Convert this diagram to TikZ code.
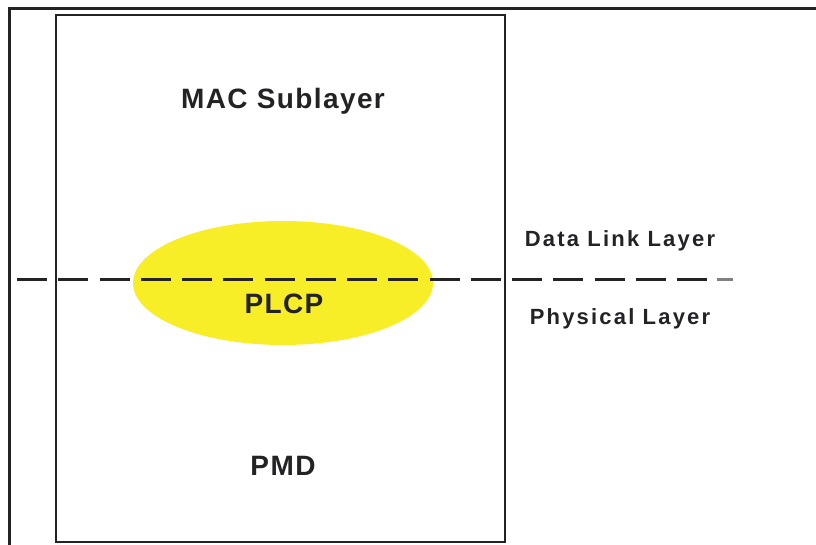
\documentclass[tikz,border=0pt]{standalone}
\usepackage{fontspec}
\setmainfont{Liberation Sans}
\usetikzlibrary{shapes.geometric}

\definecolor{plcpyellow}{RGB}{248,238,40}
\definecolor{ink}{RGB}{35,35,38}

\tikzset{
	boxlabel/.style={anchor=base, text=ink, font=\fontsize{28}{30}\selectfont\bfseries\addfontfeatures{LetterSpace=5}},
	sidelabel/.style={anchor=base, text=ink, font=\fontsize{22}{24}\selectfont\bfseries\addfontfeatures{LetterSpace=10}},
	layerline/.style={draw=ink, line width=3pt, dash pattern=on 30pt off 11.25pt}
}

\begin{document}
\begin{tikzpicture}[x=1pt, y=-1pt, line width=2.5pt]
	\useasboundingbox (0, 0) rectangle (816, 545);

		\draw[ink, line width=3pt] (816, 9) -- (9, 9) -- (9, 545); % Внешняя рамка

		\node[ellipse, fill=plcpyellow, minimum width=300pt, minimum height=124pt, inner sep=0pt] (plcpzone) at (283, 283) {}; % Эллипс PLCP

		\node[draw=ink, minimum width=449pt, minimum height=527pt, inner sep=0pt] (stack) at (280.5, 278.5) {}; % Прямоугольник

		\coordinate (lineL) at (17, 279);
		\coordinate (lineR) at (707, 279);
		\coordinate (tickL) at (717, 279);
		\coordinate (tickR) at (733, 279);
		\draw[layerline] (lineL) -- (lineR); % Граница уровней
		\draw[gray, line width=3pt] (tickL) -- (tickR);

		\node[boxlabel] (mac) at (283, 109) {MAC Sublayer};
		\node[boxlabel] (plcp) at (284, 313) {PLCP};
		\node[boxlabel] (pmd) at (283, 475) {PMD};

		\node[sidelabel] (dll) at (620, 247) {Data Link Layer};
		\node[sidelabel] (phy) at (620, 324) {Physical Layer};
\end{tikzpicture}
\end{document}
